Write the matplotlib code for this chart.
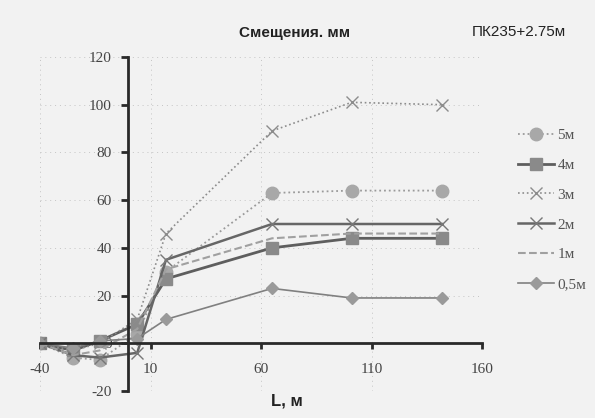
import matplotlib
matplotlib.use("Agg")
import matplotlib.pyplot as plt

# данные
L = [-40, -25, -13, 4, 17, 65, 101, 142]
s5 = [0, -6, -7, 4, 30, 63, 64, 64]
s4 = [0, -3, 1, 8, 27, 40, 44, 44]
s3 = [0, -3, 0, 10, 46, 89, 101, 100]
s2 = [0, -5, -6, -4, 35, 50, 50, 50]
s1 = [0, -5, -3, 6, 31, 44, 46, 46]
s05 = [0, -2, 1, 2, 10, 23, 19, 19]

x_ticks = [-40, 10, 60, 110, 160]
y_ticks = [-20, 0, 20, 40, 60, 80, 100, 120]
labels = ['5м', '4м', '3м', '2м', '1м', '0,5м']

plt.rcParams['axes.unicode_minus'] = False
bg = '#f2f2f2'

fig = plt.figure(figsize=(5.95, 4.18), dpi=100, facecolor=bg)
ax = fig.add_axes([40/595, 1-391/418, 442/595, 334/418], facecolor=bg)

# серии
ax.plot(L, s5, color='#9a9a9a', ls=':', lw=1.3, marker='o', ms=9,
        mfc='#a8a8a8', mec='#a8a8a8', label=labels[0])
ax.plot(L, s4, color='#5e5e5e', ls='-', lw=2.0, marker='s', ms=9,
        mfc='#8a8a8a', mec='#8a8a8a', label=labels[1])
ax.plot(L, s3, color='#8c8c8c', ls=':', lw=1.2, marker='x', ms=8,
        mec='#8c8c8c', mew=1.0, label=labels[2])
ax.plot(L, s2, color='#666666', ls='-', lw=1.8, marker='x', ms=9,
        mec='#777777', mew=1.0, label=labels[3])
ax.plot(L, s1, color='#a0a0a0', ls='--', lw=1.5, marker='', label=labels[4])
ax.plot(L, s05, color='#808080', ls='-', lw=1.2, marker='D', ms=6,
        mfc='#9a9a9a', mec='#9a9a9a', label=labels[5])

ax.set_xlim(-40, 160)
ax.set_ylim(-20, 120)
ax.set_xticks(x_ticks)
ax.set_yticks(y_ticks)

# оси пересекаются в нуле
ax.spines['left'].set_position(('data', 0))
ax.spines['bottom'].set_position(('data', 0))
ax.spines['right'].set_visible(False)
ax.spines['top'].set_visible(False)
for s in ['left', 'bottom']:
    ax.spines[s].set_linewidth(2.0)
    ax.spines[s].set_color('#2a2a2a')

ax.tick_params(axis='x', direction='out', length=4, width=2, color='#2a2a2a',
               pad=10, labelsize=11, labelcolor='#444444')
ax.tick_params(axis='y', direction='out', length=5, width=2, color='#2a2a2a',
               pad=7, labelsize=11, labelcolor='#444444')
for t in ax.get_xticklabels() + ax.get_yticklabels():
    t.set_fontfamily('Liberation Serif')

# сетка еле видна на скане
ax.grid(True, ls=(0, (1, 4)), lw=0.7, color='#c4c4c4')
ax.set_axisbelow(True)

fig.text(295/595, 1-33/418, 'Смещения. мм', ha='center', va='center',
         fontsize=11, fontweight='bold', family='Liberation Sans', color='#222222')
fig.text(519/595, 1-32/418, 'ПК235+2.75м', ha='center', va='center',
         fontsize=11, family='Liberation Sans', color='#222222')
fig.text(287/595, 1-401/418, 'L, м', ha='center', va='center',
         fontsize=12, fontweight='bold', family='Liberation Sans', color='#222222')

ax.legend(loc='upper left', bbox_to_anchor=(510/595, 1-121/418),
          bbox_transform=fig.transFigure, frameon=False,
          prop={'family': 'Liberation Serif', 'size': 11},
          labelspacing=1.05, handlelength=2.4, handletextpad=0.2,
          borderpad=0, labelcolor='#555555')

plt.savefig('out.png', dpi=100, facecolor=bg)
